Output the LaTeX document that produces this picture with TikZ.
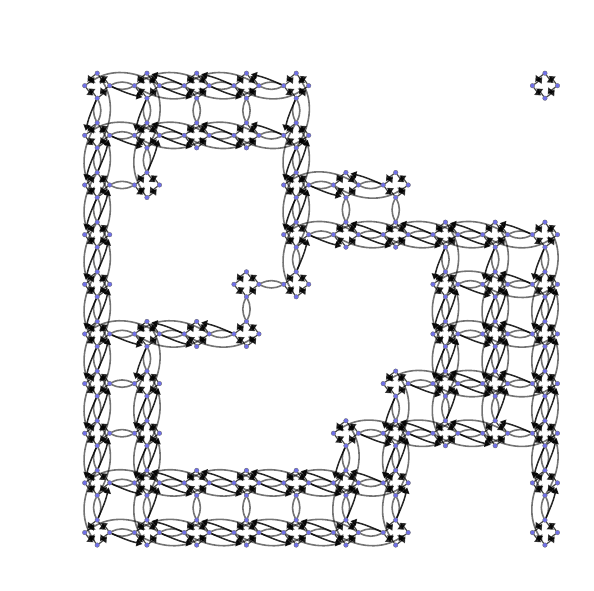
\documentclass[tikz,border=0pt]{standalone}
\usepackage{tikz}
\usetikzlibrary{arrows.meta, calc}

\definecolor{statefill}{RGB}{112,112,232}

\tikzset{
	state/.style={circle, draw=black!60, fill=statefill, line width=0.3pt, inner sep=0pt, minimum size=4.6pt},
	turnedge/.style={black, opacity=0.72, line width=1.2pt, -{Triangle[length=6pt, width=7pt]}, bend right=9, shorten >=2.2pt},
	lensedge/.style={black, opacity=0.55, line width=1.6pt, bend right=26},
	arcedge/.style={black, opacity=0.55, line width=1.6pt, -{Triangle[length=6pt, width=7pt]}, bend right=33, shorten >=2.2pt},
	darkedge/.style={black, opacity=0.85, line width=1.5pt, -{Triangle[length=6pt, width=7pt]}, bend right=6, shorten >=2.2pt}
}

% #1,#2 = the two cells, #3 = which of them run straight (bit 1: first, bit 2: second)
% #4 forward side, #5 back side, #6 left side, #7 right side
\newcommand{\linkcells}[7]{
	\draw[lensedge] (#4#1) to (#5#2);
	\draw[lensedge] (#5#2) to (#4#1);
	\ifodd#3\relax
		\draw[arcedge] (#5#1) to (#4#2);
		\draw[darkedge] (#5#2) to (#6#1);
	\fi
	\ifnum#3>1\relax
		\draw[arcedge] (#4#2) to (#5#1);
		\draw[darkedge] (#4#1) to (#7#2);
	\fi
}

\begin{document}
\begin{tikzpicture}[x=1pt, y=-1pt]
	\useasboundingbox (0,0) rectangle (594,591);
	
	% the cells, four states each
	\foreach \c/\r in {0/0,1/0,2/0,3/0,4/0,9/0,
		0/1,1/1,2/1,3/1,4/1,
		0/2,1/2,4/2,5/2,6/2,
		0/3,4/3,5/3,6/3,7/3,8/3,9/3,
		0/4,3/4,4/4,7/4,8/4,9/4,
		0/5,1/5,2/5,3/5,7/5,8/5,9/5,
		0/6,1/6,6/6,7/6,8/6,9/6,
		0/7,1/7,5/7,6/7,7/7,8/7,9/7,
		0/8,1/8,2/8,3/8,4/8,5/8,6/8,9/8,
		0/9,1/9,2/9,3/9,4/9,5/9,6/9,9/9} {
		\coordinate (mid\c\r) at (97.2+49.75*\c, 85.7+49.65*\r);
		\node[state] (N\c\r) at ($(mid\c\r)+(0,-12.5)$) {};
		\node[state] (E\c\r) at ($(mid\c\r)+(12.5,0)$) {};
		\node[state] (S\c\r) at ($(mid\c\r)+(0,12.5)$) {};
		\node[state] (W\c\r) at ($(mid\c\r)+(-12.5,0)$) {};
		\draw[turnedge] (N\c\r) to (E\c\r);
		\draw[turnedge] (E\c\r) to (N\c\r);
		\draw[turnedge] (E\c\r) to (S\c\r);
		\draw[turnedge] (S\c\r) to (E\c\r);
		\draw[turnedge] (S\c\r) to (W\c\r);
		\draw[turnedge] (W\c\r) to (S\c\r);
		\draw[turnedge] (W\c\r) to (N\c\r);
		\draw[turnedge] (N\c\r) to (W\c\r);
	}
	
	% left to right links
	\foreach \a/\b/\f in {00/10/2,10/20/3,20/30/3,30/40/1,
		01/11/2,11/21/3,21/31/3,31/41/1,
		02/12/0,42/52/2,52/62/1,
		43/53/2,53/63/3,63/73/3,73/83/3,83/93/1,
		34/44/0,74/84/2,84/94/1,
		05/15/2,15/25/3,25/35/1,75/85/2,85/95/1,
		06/16/0,66/76/2,76/86/3,86/96/1,
		07/17/0,57/67/2,67/77/3,77/87/3,87/97/1,
		08/18/2,18/28/3,28/38/3,38/48/3,48/58/3,58/68/1,
		09/19/2,19/29/3,29/39/3,39/49/3,49/59/3,59/69/1} {
		\linkcells{\a}{\b}{\f}{E}{W}{N}{S}
	}
	
	% top to bottom links
	\foreach \a/\b/\f in {00/01/2,01/02/3,02/03/3,03/04/3,04/05/3,05/06/3,06/07/3,07/08/3,08/09/1,
		10/11/2,11/12/1,15/16/2,16/17/3,17/18/3,18/19/1,
		20/21/0,28/29/0,
		30/31/0,34/35/0,38/39/0,
		40/41/2,41/42/3,42/43/3,43/44/1,48/49/0,
		52/53/0,57/58/2,58/59/1,
		62/63/0,66/67/2,67/68/3,68/69/1,
		73/74/2,74/75/3,75/76/3,76/77/1,
		83/84/2,84/85/3,85/86/3,86/87/1,
		93/94/2,94/95/3,95/96/3,96/97/3,97/98/3,98/99/1} {
		\linkcells{\a}{\b}{\f}{S}{N}{E}{W}
	}
	
\end{tikzpicture}
\end{document}
